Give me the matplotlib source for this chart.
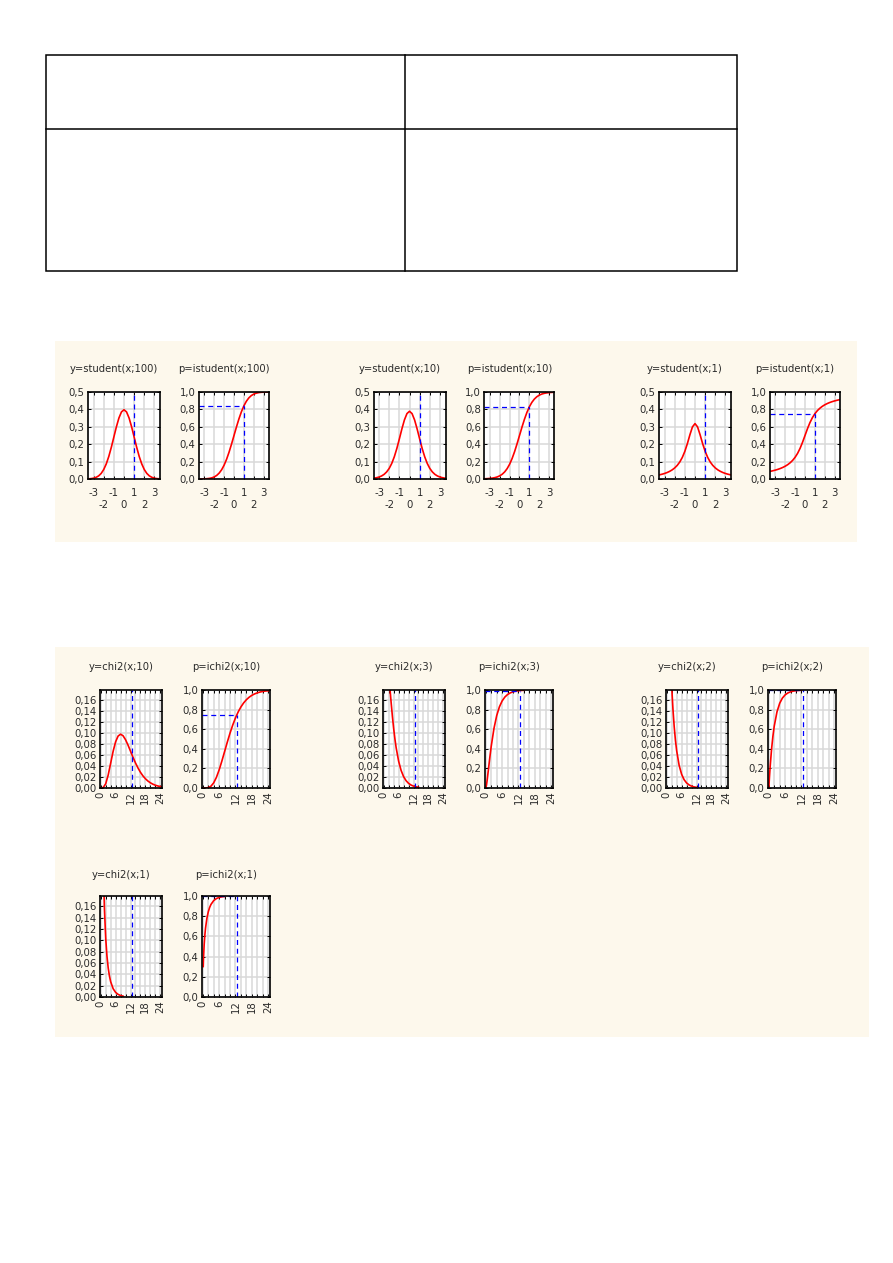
import matplotlib
matplotlib.use('Agg')
import matplotlib.pyplot as plt
from matplotlib.patches import Rectangle
from matplotlib.lines import Line2D

# student t: x grid and curve values
t_x = [-3.5, -3.25, -3.0, -2.75, -2.5, -2.25, -2.0, -1.75, -1.5, -1.25, -1.0, -0.75, -0.5, -0.25, 0.0,
       0.25, 0.5, 0.75, 1.0, 1.25, 1.5, 1.75, 2.0, 2.25, 2.5, 2.75, 3.0, 3.25, 3.5]
t100_pdf = [0.0010, 0.0022, 0.0047, 0.0095, 0.0179, 0.0321, 0.0545, 0.0866, 0.1295, 0.1822, 0.2411, 0.2999, 0.3508, 0.3856, 0.3979,
            0.3856, 0.3508, 0.2999, 0.2411, 0.1822, 0.1295, 0.0866, 0.0545, 0.0321, 0.0179, 0.0095, 0.0047, 0.0022, 0.0010]
t100_cdf = [0.0003, 0.0008, 0.0017, 0.0035, 0.0070, 0.0133, 0.0241, 0.0416, 0.0684, 0.1071, 0.1599, 0.2275, 0.3091, 0.4016, 0.5,
            0.5984, 0.6909, 0.7725, 0.8401, 0.8929, 0.9316, 0.9584, 0.9759, 0.9867, 0.9930, 0.9965, 0.9983, 0.9992, 0.9997]
t10_pdf = [0.0048, 0.0074, 0.0114, 0.0176, 0.0269, 0.0409, 0.0611, 0.0895, 0.1274, 0.1751, 0.2304, 0.2880, 0.3397, 0.3760, 0.3891,
           0.3760, 0.3397, 0.2880, 0.2304, 0.1751, 0.1274, 0.0895, 0.0611, 0.0409, 0.0269, 0.0176, 0.0114, 0.0074, 0.0048]
t10_cdf = [0.0029, 0.0044, 0.0067, 0.0102, 0.0157, 0.0240, 0.0367, 0.0553, 0.0822, 0.1199, 0.1704, 0.2353, 0.3139, 0.4038, 0.5,
           0.5962, 0.6861, 0.7647, 0.8296, 0.8801, 0.9178, 0.9447, 0.9633, 0.9760, 0.9843, 0.9898, 0.9933, 0.9956, 0.9971]
t1_pdf = [0.0240, 0.0275, 0.0318, 0.0372, 0.0439, 0.0525, 0.0637, 0.0784, 0.0979, 0.1242, 0.1592, 0.2037, 0.2546, 0.2996, 0.3183,
          0.2996, 0.2546, 0.2037, 0.1592, 0.1242, 0.0979, 0.0784, 0.0637, 0.0525, 0.0439, 0.0372, 0.0318, 0.0275, 0.0240]
t1_cdf = [0.0886, 0.0950, 0.1024, 0.1110, 0.1211, 0.1331, 0.1476, 0.1652, 0.1872, 0.2148, 0.2500, 0.2952, 0.3524, 0.4220, 0.5,
          0.5780, 0.6476, 0.7048, 0.7500, 0.7852, 0.8128, 0.8348, 0.8524, 0.8669, 0.8789, 0.8890, 0.8976, 0.9050, 0.9114]
t_titles = [('y=student(x;100)', 'p=istudent(x;100)'),
            ('y=student(x;10)', 'p=istudent(x;10)'),
            ('y=student(x;1)', 'p=istudent(x;1)')]
t_crit = 1.0
t_p = [0.8401, 0.8296, 0.75]
t_xticks = [-3, -2, -1, 0, 1, 2, 3]
t_xlabels = ['-3', '\n-2', '-1', '\n0', '1', '\n2', '3']
t_pdf_ticks = [0.0, 0.1, 0.2, 0.3, 0.4, 0.5]
t_pdf_labels = ['0,0', '0,1', '0,2', '0,3', '0,4', '0,5']
p_ticks = [0.0, 0.2, 0.4, 0.6, 0.8, 1.0]
p_labels = ['0,0', '0,2', '0,4', '0,6', '0,8', '1,0']

# chi2
chi10_x = [0, 1, 2, 3, 4, 5, 6, 7, 8, 9, 10, 11, 12, 13, 14, 15, 16, 17, 18, 19, 20, 21, 22, 23, 24, 25]
chi10_pdf = [0, 0.0008, 0.0077, 0.0235, 0.0451, 0.0668, 0.0840, 0.0944, 0.0977, 0.0949, 0.0877, 0.0779, 0.0669,
             0.0559, 0.0456, 0.0365, 0.0286, 0.0221, 0.0169, 0.0127, 0.0095, 0.0070, 0.0051, 0.0037, 0.0027, 0.0019]
chi10_cdf = [0, 0.0002, 0.0037, 0.0186, 0.0527, 0.1088, 0.1847, 0.2746, 0.3712, 0.4679, 0.5595, 0.6425, 0.7149,
             0.7763, 0.8270, 0.8679, 0.9004, 0.9256, 0.9450, 0.9597, 0.9707, 0.9789, 0.9849, 0.9893, 0.9924, 0.9947]
chi3_pdf_x = [2, 2.5, 3, 3.5, 4, 4.5, 5, 6, 7, 8, 9, 10, 11, 12, 13, 14]
chi3_pdf = [0.2076, 0.1807, 0.1542, 0.1297, 0.1080, 0.0892, 0.0732, 0.0487, 0.0319, 0.0207, 0.0133, 0.0085,
            0.0054, 0.0034, 0.0022, 0.0014]
chi3_cdf_x = [0, 0.25, 0.5, 1, 1.5, 2, 3, 4, 5, 6, 7, 8, 9, 10, 11, 12, 13, 14]
chi3_cdf = [0, 0.0309, 0.0811, 0.1987, 0.3177, 0.4276, 0.6084, 0.7385, 0.8282, 0.8884, 0.9281, 0.9540, 0.9707,
            0.9814, 0.9883, 0.9926, 0.9954, 0.9971]
chi2_pdf_x = [1.5, 2, 2.5, 3, 3.5, 4, 5, 6, 7, 8, 9, 10, 11, 12]
chi2_pdf = [0.2362, 0.1839, 0.1433, 0.1116, 0.0869, 0.0677, 0.0410, 0.0249, 0.0151, 0.0092, 0.0056, 0.0034,
            0.0020, 0.0012]
chi2_cdf_x = [0, 0.25, 0.5, 1, 1.5, 2, 3, 4, 5, 6, 7, 8, 9, 10, 11, 12]
chi2_cdf = [0, 0.1175, 0.2212, 0.3935, 0.5276, 0.6321, 0.7769, 0.8647, 0.9179, 0.9502, 0.9698, 0.9817, 0.9889,
            0.9933, 0.9959, 0.9975]
chi1_pdf_x = [1.2, 1.5, 2, 2.5, 3, 3.5, 4, 5, 6, 7, 8, 9]
chi1_pdf = [0.1999, 0.1539, 0.1038, 0.0723, 0.0514, 0.0371, 0.0270, 0.0146, 0.0081, 0.0046, 0.0026, 0.0015]
chi1_cdf_x = [0.15, 0.25, 0.5, 0.75, 1, 1.5, 2, 2.5, 3, 4, 5, 6, 7, 8]
chi1_cdf = [0.3015, 0.3829, 0.5205, 0.6135, 0.6827, 0.7793, 0.8427, 0.8862, 0.9167, 0.9545, 0.9747, 0.9857,
            0.9918, 0.9953]
chi_titles = [('y=chi2(x;10)', 'p=ichi2(x;10)'),
              ('y=chi2(x;3)', 'p=ichi2(x;3)'),
              ('y=chi2(x;2)', 'p=ichi2(x;2)'),
              ('y=chi2(x;1)', 'p=ichi2(x;1)')]
chi_crit = 12.5
chi_p = [0.747, 0.9941, 0.9981, 0.9996]
chi_xticks = [0, 6, 12, 18, 24]
chi_xlabels = ['0', '6', '12', '18', '24']
chi_pdf_ticks = [0.0, 0.02, 0.04, 0.06, 0.08, 0.10, 0.12, 0.14, 0.16]
chi_pdf_labels = ['0,00', '0,02', '0,04', '0,06', '0,08', '0,10', '0,12', '0,14', '0,16']

W, H = 893, 1263
BEIGE = '#fdf8ec'
GRID = '#d9d9d9'
TXT = '#2a2a2a'


def box(x0, y0, x1, y1):
    return [x0 / W, 1 - y1 / H, (x1 - x0) / W, (y1 - y0) / H]


def style_axes(ax):
    ax.set_facecolor('white')
    for s in ax.spines.values():
        s.set_linewidth(1.2)
        s.set_color('black')
    ax.tick_params(which='both', direction='in', top=True, right=True, length=2.5, width=0.7,
                   labelsize=7.3, labelcolor=TXT, pad=2.5)
    ax.grid(True, which='both', color=GRID, linewidth=1.1)
    ax.set_axisbelow(True)


def title(fig, x0, x1, y, text):
    fig.text(((x0 + x1) / 2 - 10) / W, 1 - y / H, text, ha='center', va='center', fontsize=7.2, color=TXT)


def student_pair(fig, left_pdf, left_cdf, x, pdf, cdf, p, titles):
    ax = fig.add_axes(box(left_pdf, 392, left_pdf + 72, 479))
    style_axes(ax)
    ax.plot(x, pdf, color='red', lw=1.2)
    ax.axvline(t_crit, color='blue', lw=0.9, dashes=(4, 3))
    ax.set_xlim(-3.55, 3.55)
    ax.set_ylim(0, 0.5)
    ax.set_xticks(t_xticks)
    ax.set_xticklabels(t_xlabels, va='top', linespacing=1.3)
    ax.set_yticks(t_pdf_ticks)
    ax.set_yticklabels(t_pdf_labels)
    ax.tick_params(axis='x', pad=6.5)
    title(fig, left_pdf, left_pdf + 72, 369, titles[0])

    ax = fig.add_axes(box(left_cdf, 392, left_cdf + 70, 479))
    style_axes(ax)
    ax.plot(x, cdf, color='red', lw=1.2)
    ax.plot([t_crit, t_crit], [0, p], color='blue', lw=0.9, dashes=(4, 3))
    ax.plot([-3.55, t_crit], [p, p], color='blue', lw=0.9, dashes=(4, 3))
    ax.set_xlim(-3.55, 3.55)
    ax.set_ylim(0, 1.0)
    ax.set_xticks(t_xticks)
    ax.set_xticklabels(t_xlabels, va='top', linespacing=1.3)
    ax.set_yticks(p_ticks)
    ax.set_yticklabels(p_labels)
    ax.tick_params(axis='x', pad=6.5)
    title(fig, left_cdf, left_cdf + 70, 369, titles[1])


def chi_pair(fig, left_pdf, left_cdf, top, bottom, title_y, px, pdf, cx, cdf, p, titles):
    ax = fig.add_axes(box(left_pdf, top, left_pdf + 62, bottom))
    style_axes(ax)
    ax.plot(px, pdf, color='red', lw=1.2)
    ax.axvline(chi_crit, color='blue', lw=0.9, dashes=(4, 3))
    ax.set_xlim(-0.3, 24.7)
    ax.set_ylim(0, 0.178)
    ax.set_xticks(chi_xticks)
    ax.set_xticks(range(0, 25, 2), minor=True)
    ax.set_xticklabels(chi_xlabels, rotation=90)
    ax.set_yticks(chi_pdf_ticks)
    ax.set_yticklabels(chi_pdf_labels, fontsize=7.3)
    title(fig, left_pdf, left_pdf + 62, title_y, titles[0])

    ax = fig.add_axes(box(left_cdf, top, left_cdf + 68, bottom))
    style_axes(ax)
    ax.plot(cx, cdf, color='red', lw=1.2)
    ax.plot([chi_crit, chi_crit], [0, p], color='blue', lw=0.9, dashes=(4, 3))
    ax.plot([-0.3, chi_crit], [p, p], color='blue', lw=0.9, dashes=(4, 3))
    ax.set_xlim(-0.3, 24.7)
    ax.set_ylim(0, 1.0)
    ax.set_xticks(chi_xticks)
    ax.set_xticks(range(0, 25, 2), minor=True)
    ax.set_xticklabels(chi_xlabels, rotation=90)
    ax.set_yticks(p_ticks)
    ax.set_yticklabels(p_labels)
    title(fig, left_cdf, left_cdf + 68, title_y, titles[1])


def main():
    plt.rcParams['font.family'] = ['DejaVu Sans']
    fig = plt.figure(figsize=(W / 100, H / 100), dpi=100)
    fig.patch.set_facecolor('white')

    # empty table at the top of the page
    fig.add_artist(Rectangle((46 / W, 1 - 271 / H), (737 - 46) / W, (271 - 55) / H, transform=fig.transFigure,
                             fill=False, edgecolor='black', lw=1.1))
    fig.add_artist(Line2D([405 / W, 405 / W], [1 - 55 / H, 1 - 271 / H], transform=fig.transFigure, color='black', lw=1.1))
    fig.add_artist(Line2D([46 / W, 737 / W], [1 - 129 / H, 1 - 129 / H], transform=fig.transFigure, color='black', lw=1.1))

    # beige panels
    fig.add_artist(Rectangle((55 / W, 1 - 542 / H), (857 - 55) / W, (542 - 341) / H, transform=fig.transFigure,
                             facecolor=BEIGE, edgecolor='none', zorder=0))
    fig.add_artist(Rectangle((55 / W, 1 - 1037 / H), (869 - 55) / W, (1037 - 647) / H, transform=fig.transFigure,
                             facecolor=BEIGE, edgecolor='none', zorder=0))

    student_pair(fig, 88, 199, t_x, t100_pdf, t100_cdf, t_p[0], t_titles[0])
    student_pair(fig, 373.5, 484.5, t_x, t10_pdf, t10_cdf, t_p[1], t_titles[1])
    student_pair(fig, 659, 770, t_x, t1_pdf, t1_cdf, t_p[2], t_titles[2])

    chi_pair(fig, 100, 202, 690, 788, 667, chi10_x, chi10_pdf, chi10_x, chi10_cdf, chi_p[0], chi_titles[0])
    chi_pair(fig, 383, 485, 690, 788, 667, chi3_pdf_x, chi3_pdf, chi3_cdf_x, chi3_cdf, chi_p[1], chi_titles[1])
    chi_pair(fig, 666, 768, 690, 788, 667, chi2_pdf_x, chi2_pdf, chi2_cdf_x, chi2_cdf, chi_p[2], chi_titles[2])
    chi_pair(fig, 100, 202, 896, 997, 875, chi1_pdf_x, chi1_pdf, chi1_cdf_x, chi1_cdf, chi_p[3], chi_titles[3])

    fig.savefig('out.png', dpi=100, facecolor='white')


if __name__ == "__main__":
    main()
